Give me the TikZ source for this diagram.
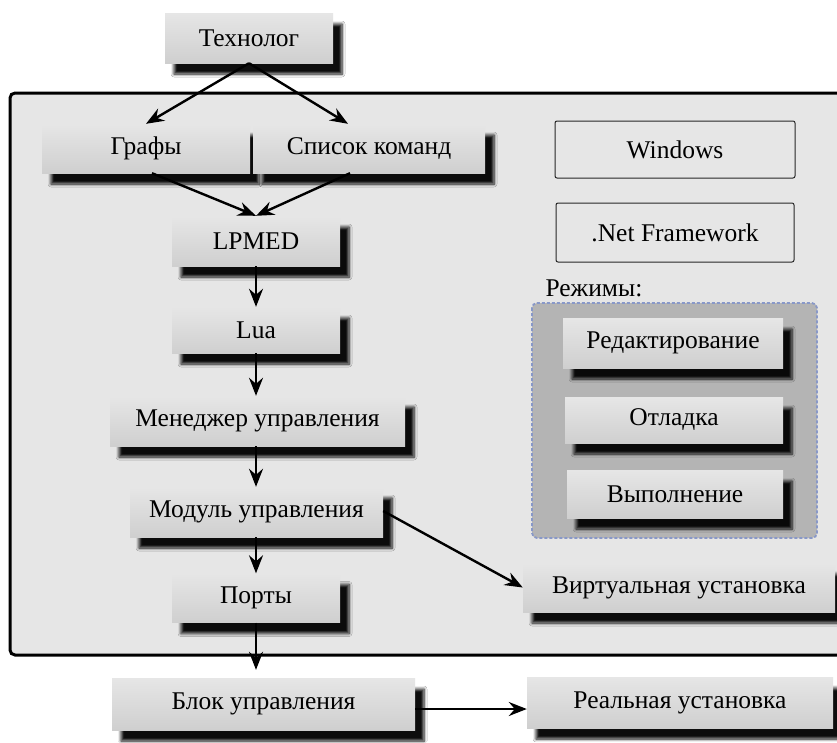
\documentclass[tikz,border=0pt]{standalone}
\usepackage{fontspec}
\setmainfont{Liberation Serif}
\usetikzlibrary{shadows.blur,arrows.meta,calc}
\definecolor{panelgray}{HTML}{E6E6E6}
\definecolor{modegray}{HTML}{B4B4B4}
\definecolor{modeedge}{HTML}{8898C8}
\definecolor{boxtop}{HTML}{E6E6E6}
\definecolor{boxbot}{HTML}{CFCFCF}
\begin{document}
\begin{tikzpicture}[x=1pt,y=1pt,
  txt/.style={font=\fontsize{25.5}{30}\selectfont},
  box/.style={txt, rectangle, inner sep=0pt, top color=boxtop, bottom color=boxbot,
    blur shadow={shadow xshift=9pt, shadow yshift=-11pt, shadow blur radius=3pt, shadow opacity=95, shadow blur steps=6}},
  flatbox/.style={txt, rectangle, inner sep=0pt, rounded corners=2pt, draw=black!85, line width=1pt, fill=panelgray},
  arr/.style={-{Stealth[length=18pt,width=14pt,inset=6pt]}, line width=2.4pt, black},
]
\useasboundingbox (0,0) rectangle (837,-742);
\clip (0,0) rectangle (837,-742);
\fill[white] (0,0) rectangle (837,-742);
% main panel
\draw[line width=3pt, rounded corners=5pt, fill=panelgray] (10,-93) rectangle (860,-655);
% modes panel
\draw[fill=modegray, draw=modeedge, line width=1.8pt, densely dashed, rounded corners=5pt] (532,-303) rectangle (817,-538);
\node[txt, anchor=west] (modeslbl) at (542,-288) {Режимы:};

% boxes
\node[box, minimum width=168pt, minimum height=50pt] (tech) at (249,-38) {Технолог};
\node[box, minimum width=208pt, minimum height=49pt] (graphs) at (146,-148.5) {Графы};
\node[box, minimum width=232pt, minimum height=49pt] (cmds) at (369,-148.5) {Список команд};
\node[box, minimum width=168pt, minimum height=50pt] (lpmed) at (256,-241) {LPMED};
\node[box, minimum width=168pt, minimum height=46pt] (lua) at (256,-330) {Lua};
\node[box, minimum width=295pt, minimum height=50pt] (mgr) at (257.5,-421) {Менеджер управления};
\node[box, minimum width=253pt, minimum height=50pt] (mod) at (256.5,-512) {Модуль управления};
\node[box, minimum width=168pt, minimum height=49pt] (ports) at (256,-598) {Порты};
\node[box, minimum width=303pt, minimum height=52pt] (block) at (263.5,-704) {Блок управления};
\node[box, minimum width=306pt, minimum height=51pt] (real) at (680,-702.5) {Реальная установка};
\node[box, minimum width=312pt, minimum height=49pt] (virt) at (679,-587.5) {Виртуальная установка};

\node[flatbox, minimum width=240pt, minimum height=57pt] (win) at (675,-149.5) {Windows};
\node[flatbox, minimum width=238pt, minimum height=59pt] (net) at (675,-232.5) {.Net Framework};

\node[box, minimum width=220pt, minimum height=50pt] (edit) at (673,-343) {Редактирование};
\node[box, minimum width=218pt, minimum height=46pt] (debug) at (674,-420) {Отладка};
\node[box, minimum width=216pt, minimum height=48pt] (exec) at (675,-494) {Выполнение};

% connectors
\draw[arr] (tech.south) -- (graphs.north);
\draw[arr] (tech.south) -- ([xshift=-21pt]cmds.north);
\draw[arr] ([xshift=6pt]graphs.south) -- (lpmed.north);
\draw[arr] ([xshift=-19pt]cmds.south) -- (lpmed.north);
\draw[arr] (lpmed.south) -- (lua.north);
\draw[arr] (lua.south) -- (lua.south |- mgr.north);
\draw[arr] (lua.south |- mgr.south) -- (lua.south |- mod.north);
\draw[arr] (lua.south |- mod.south) -- (ports.north);
\draw[arr] (ports.south) -- ([yshift=8pt]ports.south |- block.north);
\draw[arr] ([yshift=1pt]mod.east) -- (virt.west);
\draw[arr] ([yshift=-5pt]block.east) -- ([yshift=-5pt]block.east -| real.west);
\end{tikzpicture}
\end{document}
